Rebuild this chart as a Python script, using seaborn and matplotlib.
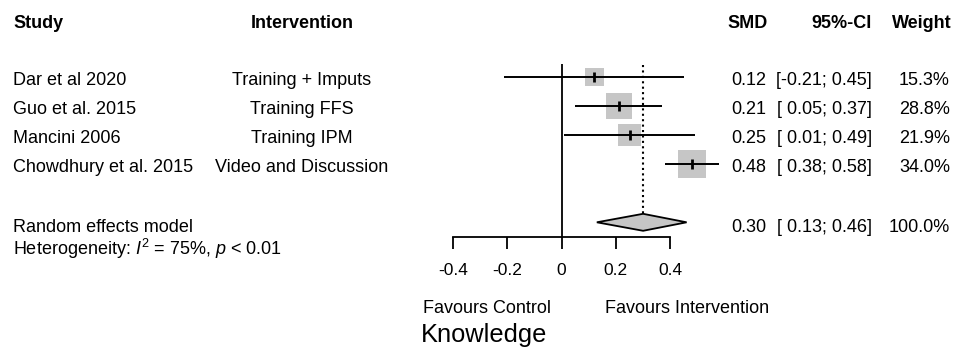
import matplotlib
matplotlib.use("Agg")
import matplotlib.pyplot as plt
import matplotlib.transforms as mtransforms
import numpy as np
import pandas as pd
import seaborn as sns

# ---- data -------------------------------------------------------------
studies = ["Dar et al 2020", "Guo et al. 2015", "Mancini 2006", "Chowdhury et al. 2015"]
interventions = ["Training + Imputs", "Training FFS", "Training IPM", "Video and Discussion"]
smd = [0.12, 0.21, 0.25, 0.48]
ci_low = [-0.21, 0.05, 0.01, 0.38]
ci_high = [0.45, 0.37, 0.49, 0.58]
weight = [15.3, 28.8, 21.9, 34.0]

pooled_smd = 0.30
pooled_low = 0.13
pooled_high = 0.46
pooled_weight = 100.0

tick_values = [-0.4, -0.2, 0, 0.2, 0.4]
tick_labels = ["-0.4", "-0.2", "0", "0.2", "0.4"]

# ---- style ------------------------------------------------------------
sns.set_theme(style="white")
plt.rcParams["font.family"] = ["Liberation Sans", "DejaVu Sans"]
plt.rcParams["mathtext.fontset"] = "custom"
plt.rcParams["mathtext.rm"] = "Liberation Sans"
plt.rcParams["mathtext.it"] = "Liberation Sans:italic"

W, H = 959, 361
FS = 13
fig = plt.figure(figsize=(W / 100, H / 100), dpi=100)
ax = fig.add_axes([0, 0, 1, 1])

# x in effect-size units, y in pixel rows (top = 0)
x0_px, unit_px = 561.5, 272.0
ax.set_xlim(-x0_px / unit_px, (W - x0_px) / unit_px)
ax.set_ylim(H, 0)

row_top, row_step = 77.0, 29.1
df = pd.DataFrame({
    "study": studies,
    "intervention": interventions,
    "smd": smd,
    "low": ci_low,
    "high": ci_high,
    "weight": weight,
})
df["ypos"] = row_top + np.arange(len(df)) * row_step
pooled_y = 222.3

# text placed by pixel column, data row
tx = mtransforms.blended_transform_factory(ax.transAxes, ax.transData)
def put(px, py, s, **kw):
    kw.setdefault("fontsize", FS)
    kw.setdefault("va", "baseline")
    ax.text(px / W, py, s, transform=tx, color="black", **kw)

# ---- forest marks -----------------------------------------------------
sq_area = {w: 12.0 * w for w in df["weight"]}
sns.scatterplot(data=df, x="smd", y="ypos", size="weight", sizes=sq_area,
                marker="s", color="#c6c6c6", edgecolor="none", linewidth=0,
                legend=False, ax=ax, zorder=2)
ax.hlines(df["ypos"], df["low"], df["high"], color="black", lw=1.4, zorder=3)
ax.plot(df["smd"], df["ypos"], ls="none", marker="|", ms=7, mew=2,
        color="black", zorder=4)

# null line and pooled-estimate line
axis_y = 236.7
ax.vlines(0, 64.3, axis_y, color="black", lw=1.3, zorder=3)
half_h = 8.5
ax.vlines(pooled_smd, 65, pooled_y - half_h, color="black", lw=1.5,
          linestyles=(0, (1, 1.6)), zorder=3)

# pooled diamond
ax.fill([pooled_low, pooled_smd, pooled_high, pooled_smd],
        [pooled_y, pooled_y - half_h, pooled_y, pooled_y + half_h],
        facecolor="#c6c6c6", edgecolor="black", lw=1.3, zorder=3)

# ---- x axis -----------------------------------------------------------
for side in ["left", "right", "top"]:
    ax.spines[side].set_visible(False)
ax.spines["bottom"].set_position(("data", axis_y))
ax.spines["bottom"].set_bounds(-0.4, 0.4)
ax.spines["bottom"].set_linewidth(1.3)
ax.spines["bottom"].set_color("black")
ax.set_xticks(tick_values)
ax.set_xticklabels(tick_labels, fontsize=12.5)
ax.tick_params(axis="x", direction="out", length=8.7, width=1.3,
               colors="black", pad=10.5, bottom=True)
ax.set_yticks([])
ax.set_xlabel("")
ax.set_ylabel("")

# ---- headers ----------------------------------------------------------
hdr_y = 28
put(13, hdr_y, "Study", fontweight="bold")
put(302, hdr_y, "Intervention", fontweight="bold", ha="center")
put(768, hdr_y, "SMD", fontweight="bold", ha="right")
put(872, hdr_y, "95%-CI", fontweight="bold", ha="right")
put(952, hdr_y, "Weight", fontweight="bold", ha="right")

# ---- study rows -------------------------------------------------------
for _, r in df.iterrows():
    yb = r["ypos"] + 8
    put(13, yb, r["study"])
    put(302, yb, r["intervention"], ha="center")
    put(766, yb, f"{r['smd']:.2f}", ha="right")
    put(872, yb, f"[{r['low']:5.2f}; {r['high']:.2f}]", ha="right")
    put(950, yb, f"{r['weight']:.1f}%", ha="right")

# ---- pooled row -------------------------------------------------------
yb = pooled_y + 9.5
put(13, yb, "Random effects model")
put(766, yb, f"{pooled_smd:.2f}", ha="right")
put(872, yb, f"[{pooled_low:5.2f}; {pooled_high:.2f}]", ha="right")
put(950, yb, f"{pooled_weight:.1f}%", ha="right")
put(13, 255, r"Heterogeneity: $I^2$ = 75%, $p$ < 0.01")

# ---- direction labels and title --------------------------------------
put(487, 313, "Favours Control", ha="center")
put(687, 313, "Favours Intervention", ha="center")
put(484, 342, "Knowledge", fontsize=18.3, ha="center")

fig.savefig("out.png", dpi=100, facecolor="white")
